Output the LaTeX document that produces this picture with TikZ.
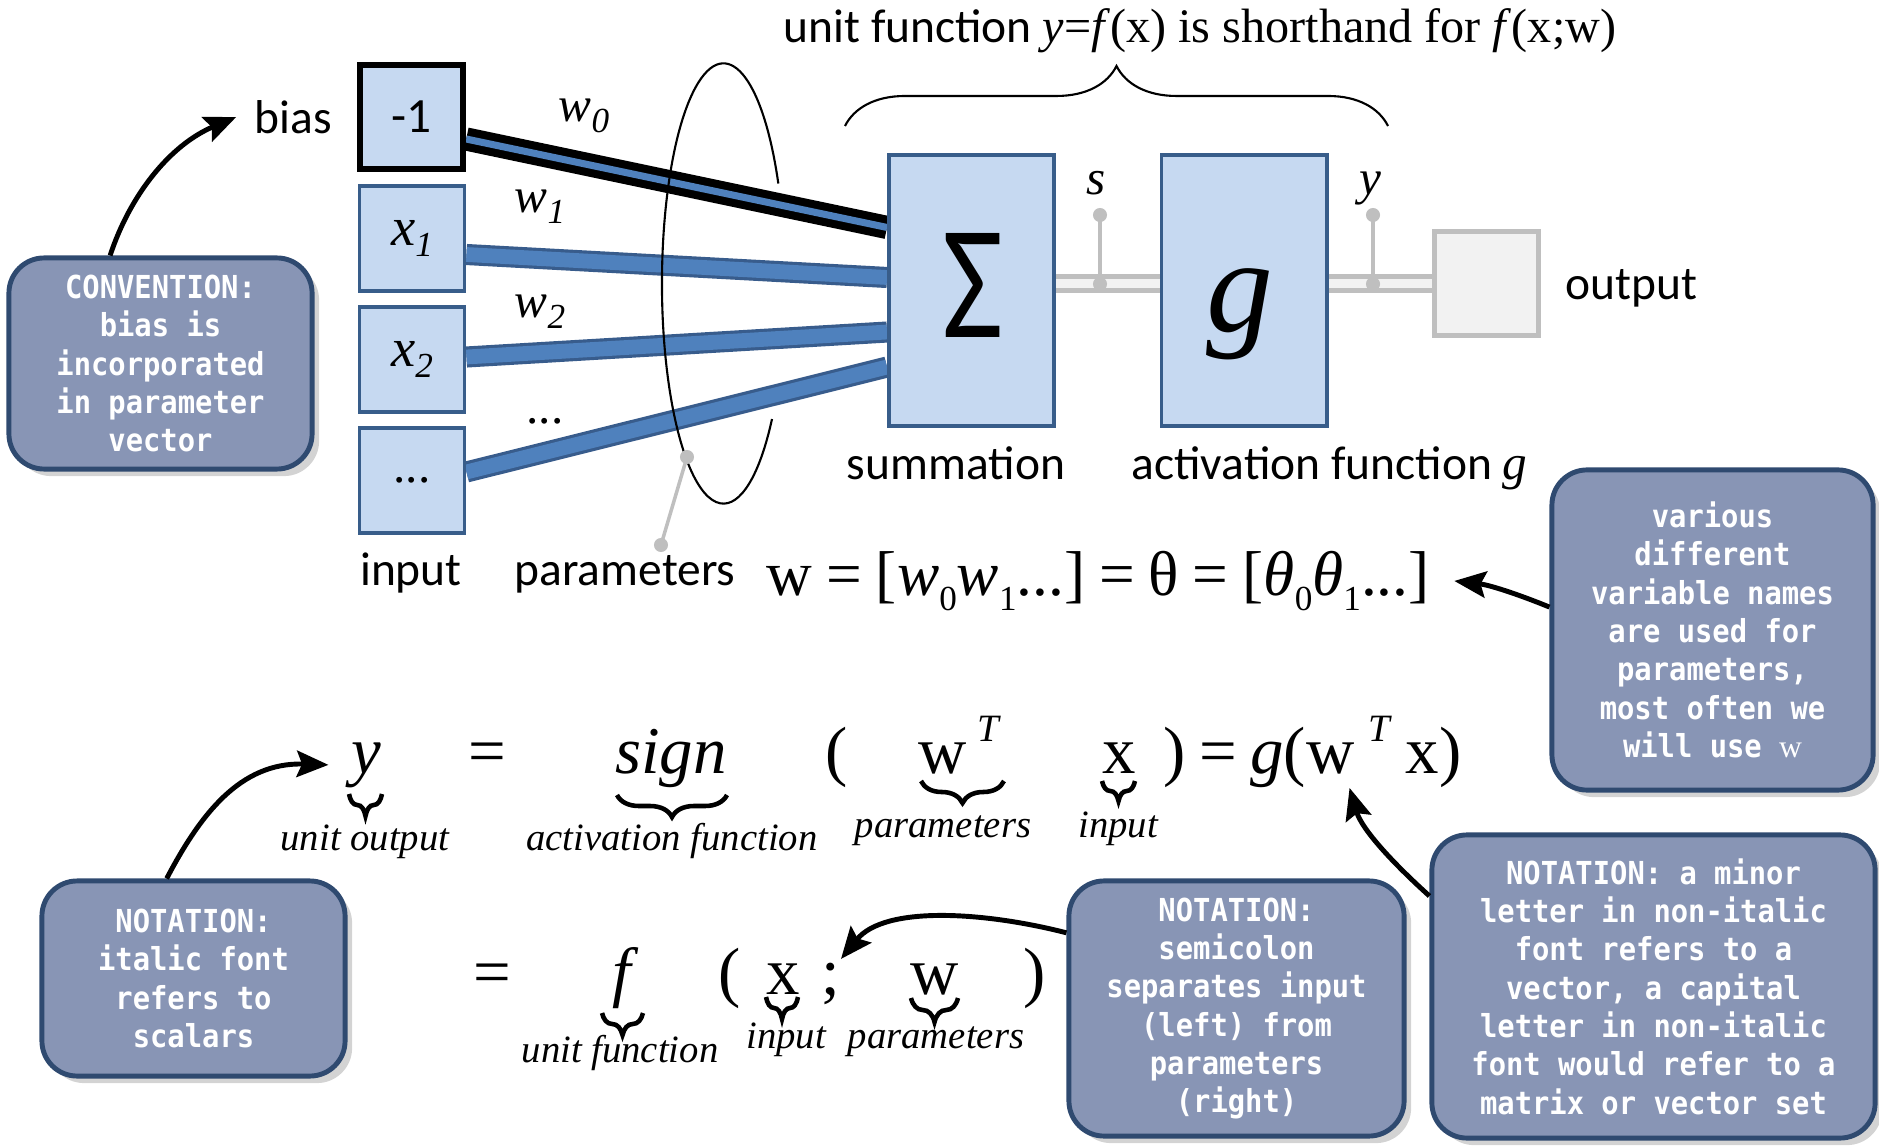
\documentclass[tikz,border=0pt]{standalone}
\usepackage{fontspec}
\setmainfont{Carlito}
\newfontfamily\tnr{Liberation Serif}
\newfontfamily\notefont[FakeStretch=0.91]{DejaVu Sans Mono}
\usetikzlibrary{arrows.meta, positioning, calc, shadows, backgrounds, decorations.pathreplacing}
\definecolor{cellfill}{RGB}{198,217,241}
\definecolor{celledge}{RGB}{56,93,138}
\definecolor{wireblue}{RGB}{79,129,189}
\definecolor{wireedge}{RGB}{56,92,140}
\definecolor{pingrey}{RGB}{191,191,191}
\definecolor{outfill}{RGB}{242,242,242}
\definecolor{notefill}{RGB}{136,149,181}
\definecolor{noteedge}{RGB}{47,74,112}
\newcommand{\dsub}[2][3pt]{\raisebox{-#1}{\fontsize{10}{10}\selectfont #2}}

\begin{document}
\begin{tikzpicture}[x=0.01cm, y=-0.01cm,
    cell/.style={draw=celledge, line width=1.1pt, fill=cellfill, inner sep=0pt,
                 minimum width=1.05cm, minimum height=1.05cm},
    stage/.style={cell, minimum width=1.65cm, minimum height=2.71cm},
    lbl/.style={font=\fontsize{13.5}{16}\selectfont, inner sep=0pt},
    eq/.style={font=\tnr\fontsize{19}{22}\selectfont, inner sep=0pt, anchor=base},
    brlbl/.style={font=\tnr\itshape\fontsize{11}{13}\selectfont, inner sep=0pt, anchor=base},
    wlbl/.style={font=\tnr\itshape\fontsize{14}{16}\selectfont, inner sep=0pt, anchor=base},
    wire/.style={draw=wireedge, line width=0.9pt, double=wireblue, double distance=4.2pt},
    band/.style={draw=pingrey, line width=1.4pt, double=outfill, double distance=2.6pt},
    probe/.style={draw=pingrey, line width=1pt},
    ubrace/.style={decorate, decoration={brace, mirror, amplitude=#1}, line width=1.3pt},
    note/.style={rounded corners=10pt, fill=notefill, draw=noteedge, line width=1.4pt,
                 drop shadow={opacity=0.35, shadow xshift=2pt, shadow yshift=-2pt},
                 text=white, align=center, inner sep=0pt,
                 font=\notefont\bfseries\fontsize{9}{10.9}\selectfont},
    callarrow/.style={-{Stealth[length=9pt, width=7.5pt, inset=1.5pt]}, line width=1.4pt}
  ]
  \useasboundingbox (0,0) rectangle (1879,1146);

  % the unit
  \node[cell, draw=black, line width=1.8pt, minimum width=1.03cm, minimum height=1.04cm,
        font=\fontsize{14}{16}\selectfont] (bias) at (411.5,117) {-1};
  \node[cell, font=\tnr\itshape\fontsize{15.5}{16}\selectfont] (x1) at (412,238.5) {x\dsub[3.4pt]{1}};
  \node[cell, font=\tnr\itshape\fontsize{15.5}{16}\selectfont] (x2) at (412,359.5) {x\dsub[3.4pt]{2}};
  \node[cell, font=\tnr\fontsize{14}{16}\selectfont] (xn) at (412,480.5) {...};
  \node[stage] (sum) at (971.5,290.5) {};
  \node[stage] (g) at (1244,290.5) {};
  \node[cell, draw=pingrey, fill=outfill, line width=1.4pt, minimum width=1.04cm,
        minimum height=1.04cm] (out) at (1486.5,283.5) {};
  \node[inner sep=0pt] (sigma) at (973,285) {\resizebox{0.61cm}{1.04cm}{Σ}};
  \node[font=\tnr\itshape\fontsize{38}{40}\selectfont, inner sep=0pt, anchor=base] (gsym) at (1240,332) {g};

  \begin{scope}[on background layer]
    \draw[wire, draw=black, line width=2.3pt, double distance=2pt] ([yshift=-0.22cm]bias.east) -- ([yshift=0.63cm]sum.west);
    \draw[wire] ([yshift=-0.16cm]x1.east) -- ([yshift=0.13cm]sum.west);
    \draw[wire] ([yshift=0.025cm]x2.east) -- ([yshift=-0.415cm]sum.west);
    \draw[wire] ([yshift=0.085cm]xn.east) -- ([yshift=-0.765cm]sum.west);
    \draw[band] (sum.east |- out.west) -- (g.west |- out.west);
    \draw[band] (g.east |- out.west) -- (out.west);
  \end{scope}

  \coordinate (sfoot) at (1100,284);
  \coordinate (shead) at (1100,215);
  \coordinate (yfoot) at (1373,284);
  \coordinate (yhead) at (1373,215);
  \coordinate (pfoot) at (661,545);
  \coordinate (phead) at (687,457);
  \coordinate (ring) at (723.5,283.5);

  \draw[line width=0.6pt] ([shift={(27:0.615cm and 2.2cm)}]ring)
    arc[start angle=27, end angle=322, x radius=0.615cm, y radius=2.2cm];
  \draw[probe] (sfoot) -- (shead);
  \draw[probe] (yfoot) -- (yhead);
  \draw[probe] (pfoot) -- (phead);
  \fill[pingrey] (sfoot) circle[radius=2pt] (shead) circle[radius=2pt]
                 (yfoot) circle[radius=2pt] (yhead) circle[radius=2pt]
                 (pfoot) circle[radius=2pt] (phead) circle[radius=2pt];

  \node[wlbl] (w0) at (584,122) {w\dsub{0}};
  \node[wlbl] (w1) at (540,213) {w\dsub{1}};
  \node[wlbl] (w2) at (540,318) {w\dsub{2}};
  \node[wlbl, font=\tnr\fontsize{14}{16}\selectfont] (wn) at (545,424) {...};
  \node[wlbl] (slbl) at (1096,195) {s};
  \node[wlbl] (ylbl) at (1370,195) {y};

  \node[lbl, left=0.24cm of bias] (biaslbl) {bias};
  \node[lbl, anchor=base] (inlbl) at (411,585) {input};
  \node[lbl, anchor=base] (parlbl) at (625,585) {parameters};
  \node[lbl, anchor=base] (sumlbl) at (956,479) {summation};
  \node[lbl, anchor=base west] (actlbl) at (1131,479) {activation function {\tnr\itshape\fontsize{14}{16}\selectfont g}};
  \node[lbl, anchor=base west] (outlbl) at (1565,300) {output};
  \node[lbl, anchor=base] (toplbl) at (1200,43) {unit function {\tnr\fontsize{13.7}{16}\selectfont
    \textit{y}=\textit{f}(x) is shorthand for \textit{f}(x;w)}};
  \draw[decorate, decoration={brace, amplitude=0.6cm}, line width=0.6pt] (845,126) -- (1388,126);

  \node[eq, anchor=base west, font=\tnr\fontsize{18}{20}\selectfont] (wvec) at (766,595)
    {w\hspace{0.22em}=\hspace{0.22em}[\textit{w}\dsub[4.5pt]{0}\textit{w}\dsub[4.5pt]{1}...]\hspace{0.22em}=\hspace{0.22em}θ\hspace{0.22em}=\hspace{0.22em}[\textit{θ}\dsub[4.5pt]{0}\textit{θ}\dsub[4.5pt]{1}...]};

  % y = sign(w^T x) = g(w^T x)
  \node[eq] (ey) at (366,773) {\itshape y};
  \node[eq] (eeq1) at (487,773) {=};
  \node[eq] (esign) at (671,773) {\itshape sign};
  \node[eq] (elp1) at (837,773) {(};
  \node[eq] (ew1) at (943,773) {w};
  \node[eq, font=\tnr\itshape\fontsize{11}{12}\selectfont] (eT1) at (988,741) {T};
  \node[eq] (ex1) at (1119,773) {x};
  \node[eq, anchor=base west] (egx) at (1163,773)
    {)\hspace{0.2em}=\hspace{0.2em}\textit{g}(w\hspace{4pt}\raisebox{9pt}{\fontsize{11}{12}\selectfont\itshape T}\hspace{4.5pt}x)};
  \draw[ubrace=0.22cm] (349,794) -- (382,794);
  \draw[ubrace=0.22cm] (617,795) -- (727,795);
  \draw[ubrace=0.22cm] (921,781) -- (1004,781);
  \draw[ubrace=0.2cm] (1102,781) -- (1135,781);
  \node[brlbl] (lout) at (365,850) {unit output};
  \node[brlbl] (lact) at (672,850) {activation function};
  \node[brlbl] (lpar1) at (943,837) {parameters};
  \node[brlbl] (lin1) at (1118,837) {input};

  % = f(x;w)
  \node[eq] (eeq2) at (492,994) {=};
  \node[eq] (ef) at (622,994) {\itshape f};
  \node[eq] (elp2) at (730,994) {(};
  \node[eq] (ex2) at (783,994) {x};
  \node[eq] (esemi) at (831,994) {;};
  \node[eq] (ew2) at (935,994) {w};
  \node[eq] (erp2) at (1035,994) {)};
  \draw[ubrace=0.22cm] (602,1013) -- (643,1013);
  \draw[ubrace=0.22cm] (766,997) -- (798,997);
  \draw[ubrace=0.24cm] (911,998) -- (958,998);
  \node[brlbl] (lfun) at (620,1062) {unit function};
  \node[brlbl] (lin2) at (786,1048) {input};
  \node[brlbl] (lpar2) at (936,1048) {parameters};

  % callouts
  \node[note, minimum width=3.03cm, minimum height=2.11cm] (conv) at (160.5,363.5)
    {CONVENTION:\\bias is\\incorporated\\in parameter\\vector};
  \node[note, minimum width=3.21cm, minimum height=3.2cm] (vari) at (1712.5,630)
    {various\\different\\variable names\\are used for\\parameters,\\most often we\\will use {\tnr\mdseries w}};
  \node[note, minimum width=3.03cm, minimum height=1.95cm] (ital) at (193.5,978.5)
    {NOTATION:\\italic font\\refers to\\scalars};
  \node[note, minimum width=3.35cm, minimum height=2.55cm] (semi) at (1236.5,1008.5)
    {NOTATION:\\semicolon\\separates input\\(left) from\\parameters\\(right)};
  \node[note, minimum width=4.43cm, minimum height=3.03cm] (minor) at (1653.5,986.5)
    {NOTATION: a minor\\letter in non-italic\\font refers to a\\vector, a capital\\letter in non-italic\\font would refer to a\\matrix or vector set};

  \draw[callarrow] (conv.115) .. controls (130,195) and (170,145) .. ([xshift=-0.18cm]biaslbl.west);
  \draw[callarrow] (vari.172) .. controls (1520,595) and (1490,585) .. ([xshift=0.24cm]wvec.east);
  \draw[callarrow] (ital.105) .. controls (200,815) and (240,762) .. ([xshift=-0.22cm]ey.west);
  \draw[callarrow] (semi.156) .. controls (985,912) and (885,905) .. ([yshift=0.03cm]esemi.north east);
  \draw[callarrow] (minor.158) .. controls (1395,865) and (1362,830) .. ([xshift=0.37cm]egx.south);
\end{tikzpicture}
\end{document}
